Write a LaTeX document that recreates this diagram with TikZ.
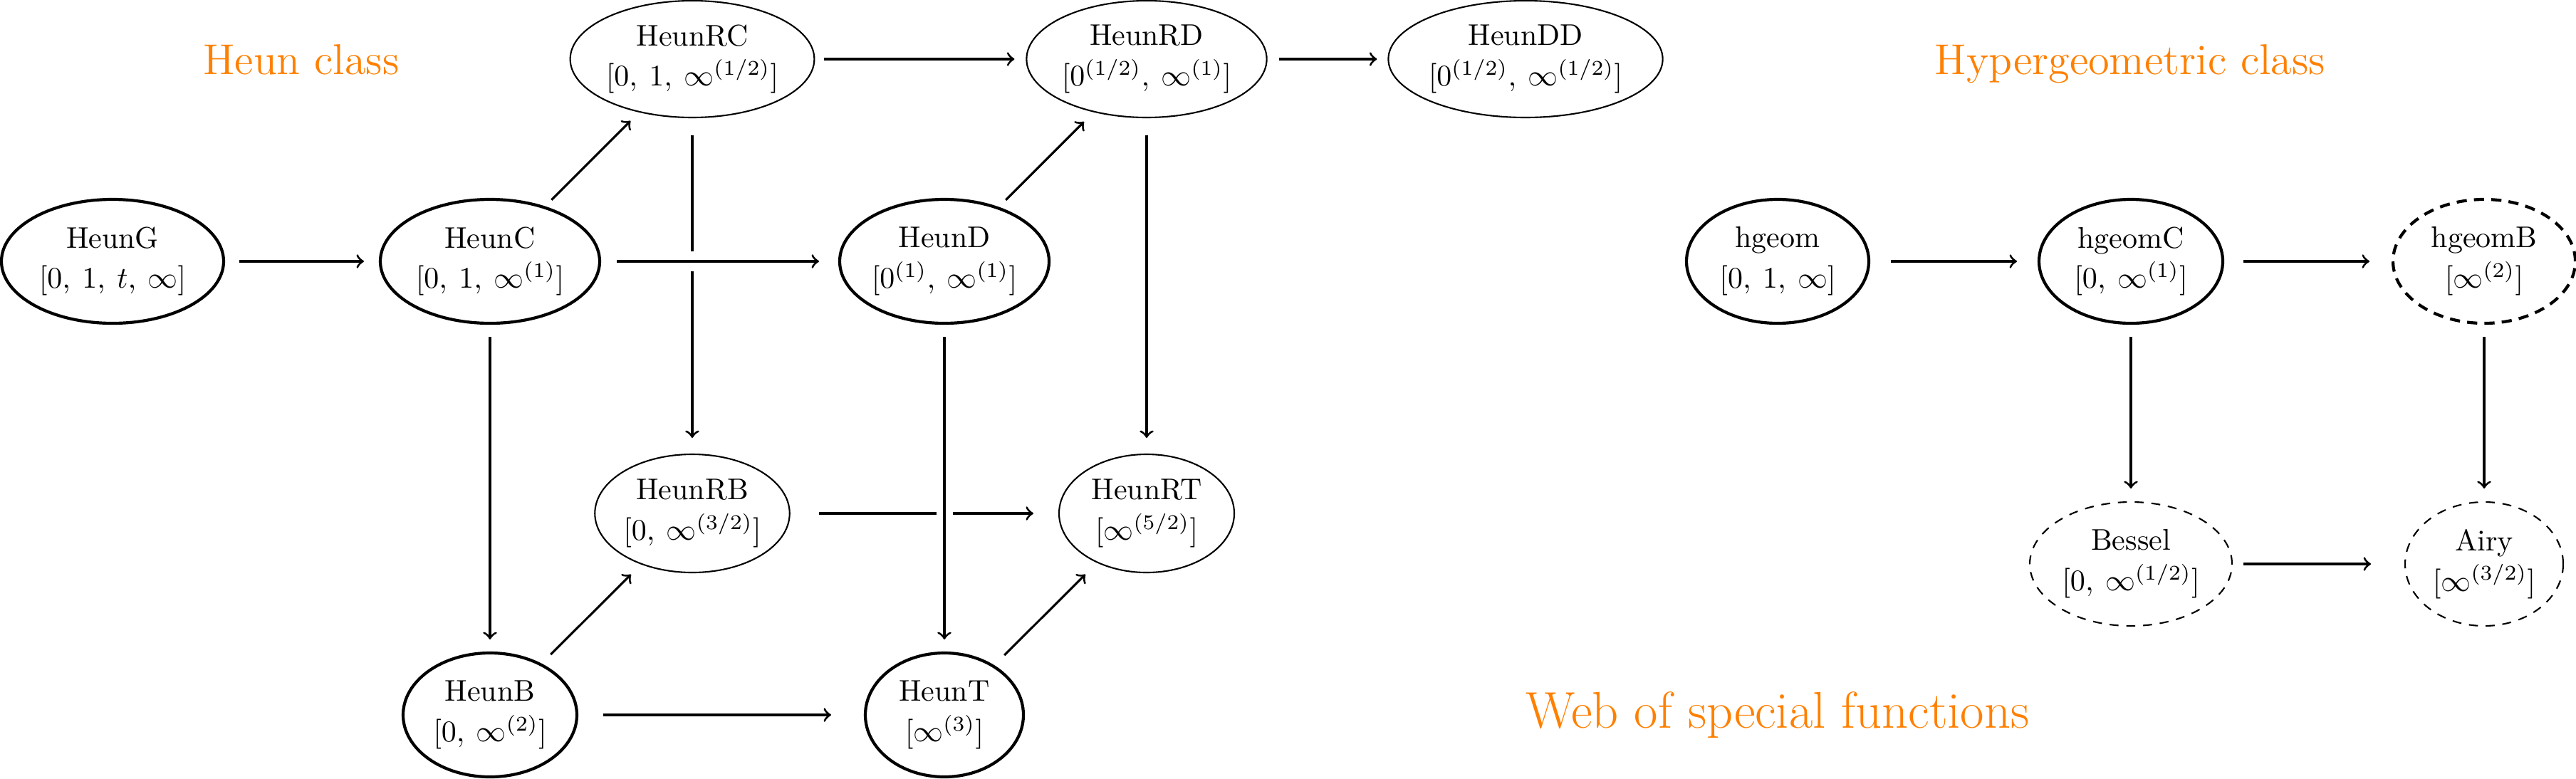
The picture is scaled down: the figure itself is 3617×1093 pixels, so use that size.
\documentclass[tikz,border=0pt]{standalone}
\usetikzlibrary{shapes.geometric}
\def\px{0.2381pt}
\begin{document}
\begin{tikzpicture}[x=0.2381pt, y=-0.2381pt,
  hnode/.style={draw, ellipse, inner sep=0pt, outer sep=0pt, align=center, font=\normalsize},
  bold/.style={hnode, line width=1pt},
  lite/.style={hnode, line width=0.5pt},
  bolddash/.style={bold, dash pattern=on 3.4pt off 2.4pt},
  litedash/.style={lite, dash pattern=on 3pt off 2.6pt},
  sz/.style 2 args={minimum width=#1*\px, minimum height=#2*\px},
  arr/.style={->, line width=0.75pt},
  sg/.style 2 args={shorten <=#1*\px, shorten >=#2*\px},
  lbl/.style={text=orange, anchor=base, inner sep=0pt},
]
\useasboundingbox (0,0) rectangle (3617,1093);

% Heun class
\node[bold, sz={312}{174}] (G)  at (158,367)  {HeunG\\[1.5pt]$[0,\: 1,\: t,\: \infty]$};
\node[bold, sz={308}{174}] (C)  at (688,367)  {HeunC\\[1.5pt]$[0,\: 1,\: \infty^{(1)}]$};
\node[bold, sz={294}{174}] (D)  at (1326,367) {HeunD\\[1.5pt]$[0^{(1)},\: \infty^{(1)}]$};
\node[lite, sz={328}{164}] (RC) at (972,83)   {HeunRC\\[1.5pt]$[0,\: 1,\: \infty^{(1/2)}]$};
\node[lite, sz={320}{164}] (RD) at (1610,83)  {HeunRD\\[1.5pt]$[0^{(1/2)},\: \infty^{(1)}]$};
\node[lite, sz={356}{164}] (DD) at (2142,83)  {HeunDD\\[1.5pt]$[0^{(1/2)},\: \infty^{(1/2)}]$};
\node[lite, sz={272}{166}] (RB) at (972,721)  {HeunRB\\[1.5pt]$[0,\: \infty^{(3/2)}]$};
\node[lite, sz={246}{166}] (RT) at (1610,721) {HeunRT\\[1.5pt]$[\infty^{(5/2)}]$};
\node[bold, sz={244}{174}] (B)  at (688,1004) {HeunB\\[1.5pt]$[0,\: \infty^{(2)}]$};
\node[bold, sz={222}{174}] (T)  at (1326,1004){HeunT\\[1.5pt]$[\infty^{(3)}]$};

% Hypergeometric class
\node[bold, sz={256}{174}] (hg) at (2496,367) {hgeom\\[1.5pt]$[0,\: 1,\: \infty]$};
\node[bold, sz={258}{174}] (hC) at (2992,367) {hgeomC\\[1.5pt]$[0,\: \infty^{(1)}]$};
\node[bolddash, sz={256}{174}] (hB) at (3488,367) {hgeomB\\[1.5pt]$[\infty^{(2)}]$};
\node[litedash, sz={284}{174}] (Be) at (2992,792) {Bessel\\[1.5pt]$[0,\: \infty^{(1/2)}]$};
\node[litedash, sz={222}{174}] (Ai) at (3488,792) {Airy\\[1.5pt]$[\infty^{(3/2)}]$};

% labels
\node[lbl, font=\Large] (l1) at (423,104) {Heun class};
\node[lbl, font=\Large] (l2) at (2991,104) {Hypergeometric class};
\node[lbl, font=\LARGE] (l3) at (2496,1022) {Web of special functions};

% arrows (Heun)
\draw[arr, sg={22}{23}] (G) -- (C);
\draw[arr, sg={14}{17}] (RC) -- (RD);
\draw[arr, sg={17}{16}] (RD) -- (DD);
\draw[arr, sg={15}{18}] (C) -- (RC);
\draw[arr, sg={16}{20}] (D) -- (RD);
\draw[arr, sg={19}{19}] (C) -- (B);
\draw[arr, sg={25}{23}] (RC) -- (RB);
\draw[arr, sg={25}{23}] (RD) -- (RT);
\draw[arr, sg={20}{21}] (B) -- (RB);
\draw[arr, sg={22}{24}] (T) -- (RT);
\draw[arr, sg={37}{48}] (B) -- (T);
\draw[arr, sg={41}{36}] (RB) -- (RT);
% crossing arrows drawn over
\draw[arr, sg={24}{29}, preaction={draw=white, -, line width=28*\px}] (C) -- (D);
\draw[arr, sg={19}{19}, preaction={draw=white, -, line width=23*\px}] (D) -- (T);

% arrows (hypergeometric)
\draw[arr, sg={31}{31}] (hg) -- (hC);
\draw[arr, sg={29}{33}] (hC) -- (hB);
\draw[arr, sg={19}{19}] (hC) -- (Be);
\draw[arr, sg={19}{19}] (hB) -- (Ai);
\draw[arr, sg={16}{48}] (Be) -- (Ai);
\end{tikzpicture}
\end{document}
